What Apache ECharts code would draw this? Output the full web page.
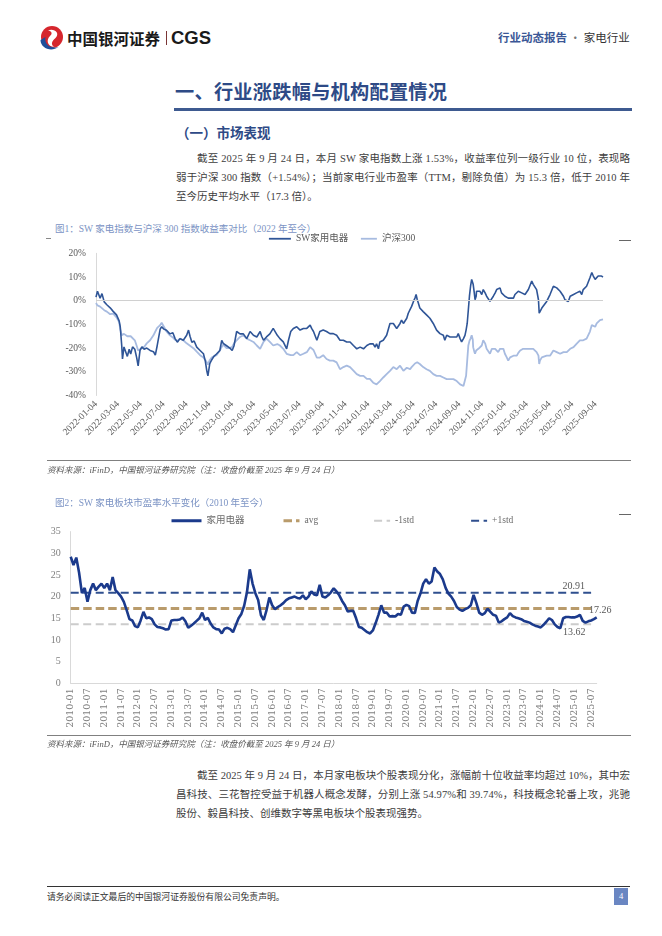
<!DOCTYPE html>
<html><head><meta charset="utf-8">
<script src="https://cdn.jsdelivr.net/npm/echarts@6/dist/echarts.min.js"></script>
<style>
body{margin:0;width:662px;height:936px;position:relative;background:#fff;overflow:hidden;font-family:"Liberation Serif","Noto Sans CJK SC",serif;}
.a{position:absolute;white-space:nowrap;}
.cj{font-family:"Noto Sans CJK SC",sans-serif;}
.ln{position:absolute;white-space:nowrap;font-size:10.5px;line-height:19px;color:#3d3d3d;}
.cap{position:absolute;white-space:nowrap;font-size:9.5px;line-height:14px;color:#7b93c4;}
.src{position:absolute;white-space:nowrap;font-size:8.5px;line-height:12px;color:#595959;font-style:italic;}
.rule{position:absolute;}
</style></head><body>

<svg class="a" style="left:38px;top:25px" width="26" height="26" viewBox="0 0 26 26">
  <circle cx="14" cy="12" r="11" fill="#d6262d"/>
  <path d="M2.5 15 C 2.5 23, 13 27.5, 20.5 22 C 13 24, 6 20, 7.5 12 Z" fill="#1f4e9a"/>
  <path d="M10 5.5 C 16 3, 22.5 8, 17.5 13 C 13.5 16, 12.5 20, 16.5 22 C 9 21.5, 8 15, 12 11 C 15 8.5, 13.5 6, 10 5.5 Z" fill="#fff"/>
</svg>
<div class="a cj" style="left:67px;top:28px;font-size:15.5px;line-height:20px;font-weight:700;color:#1a1a1a">中国银河证券</div>
<div class="rule" style="left:166px;top:31px;width:1.3px;height:14px;background:#7a3535"></div>
<div class="a" style="left:171px;top:27px;font-family:'Liberation Sans',sans-serif;font-size:18.5px;line-height:22px;font-weight:700;color:#1a1a1a">CGS</div>
<div class="a cj" style="left:498px;top:30px;font-size:11.5px;line-height:15px;color:#333"><span style="color:#3b5796;font-weight:700">行业动态报告</span><span style="color:#777"> · </span>家电行业</div>

<div class="a cj" id="title" data-w="272" style="left:175px;top:80px;font-size:19.2px;line-height:22px;font-weight:700;color:#2e4a86">一、行业涨跌幅与机构配置情况</div>
<div class="rule" style="left:174px;top:108.3px;width:458px;height:2.3px;background:#3e5a90"></div>
<div class="a cj" style="left:176px;top:124px;font-size:13.5px;line-height:17px;font-weight:700;color:#2e4a86">（一）市场表现</div>

<div class="ln jl" data-w="433" style="left:197px;top:149px">截至 2025 年 9 月 24 日，本月 SW 家电指数上涨 1.53%，收益率位列一级行业 10 位，表现略</div>
<div class="ln jl" data-w="454" style="left:176px;top:168px">弱于沪深 300 指数（+1.54%）；当前家电行业市盈率（TTM，剔除负值）为 15.3 倍，低于 2010 年</div>
<div class="ln" style="left:176px;top:187px">至今历史平均水平（17.3 倍）。</div>

<div class="cap" style="left:55px;top:222px">图1：SW 家电指数与沪深 300 指数收益率对比（2022 年至今）</div>
<div class="rule" style="left:46px;top:238px;width:5px;height:1px;background:#888"></div>
<div class="rule" style="left:619px;top:240px;width:12px;height:1px;background:#666"></div>

<div id="c1" style="position:absolute;left:0;top:225px;width:662px;height:240px"></div>

<div class="rule" style="left:47px;top:460px;width:584px;height:1.3px;background:#808080"></div>
<div class="src" style="left:47px;top:463.5px">资料来源：iFinD，中国银河证券研究院（注：收盘价截至 2025 年 9 月 24 日）</div>

<div class="cap" style="left:55px;top:496px">图2：SW 家电板块市盈率水平变化（2010 年至今）</div>
<div class="rule" style="left:619px;top:513.5px;width:12px;height:1px;background:#666"></div>

<div id="c2" style="position:absolute;left:0;top:510px;width:662px;height:232px"></div>

<div class="rule" style="left:47px;top:735px;width:584px;height:1.3px;background:#808080"></div>
<div class="src" style="left:47px;top:737.5px">资料来源：iFinD，中国银河证券研究院（注：收盘价截至 2025 年 9 月 24 日）</div>

<div class="ln jl" data-w="433" style="left:197px;top:765.5px">截至 2025 年 9 月 24 日，本月家电板块个股表现分化，涨幅前十位收益率均超过 10%，其中宏</div>
<div class="ln jl" data-w="454" style="left:176px;top:784.5px">昌科技、三花智控受益于机器人概念发酵，分别上涨 54.97%和 39.74%，科技概念轮番上攻，兆驰</div>
<div class="ln" style="left:176px;top:803.5px">股份、毅昌科技、创维数字等黑电板块个股表现强势。</div>

<div class="rule" style="left:47px;top:886px;width:583px;height:1px;background:#333"></div>
<div class="a" style="left:47px;top:890.5px;font-size:8.8px;line-height:12px;color:#333">请务必阅读正文最后的中国银河证券股份有限公司免责声明。</div>
<div class="a" style="left:614px;top:888px;width:14px;height:17px;background:#6a86c2;color:#fff;font-size:8.5px;line-height:17px;text-align:center">4</div>

<script>
// ---------- Chart 1 data: cumulative return since 2022-01-04 (%) ----------
const dates1 = ['2022-01-04','2022-01-08','2022-01-15','2022-01-20','2022-01-26','2022-02-02','2022-02-11','2022-02-19','2022-02-28','2022-03-07',
'2022-03-10','2022-03-14','2022-03-16','2022-03-20','2022-03-25','2022-03-29','2022-04-03','2022-04-07','2022-04-12','2022-04-18',
'2022-04-23','2022-04-27','2022-05-02','2022-05-07','2022-05-13','2022-05-20','2022-05-29','2022-06-07','2022-06-12','2022-06-17',
'2022-06-25','2022-06-29','2022-07-05','2022-07-12','2022-07-21','2022-07-29','2022-08-04','2022-08-10','2022-08-17','2022-08-26',
'2022-09-04','2022-09-09','2022-09-13','2022-09-18','2022-09-24','2022-10-01','2022-10-10','2022-10-19','2022-10-24','2022-10-28',
'2022-10-31','2022-11-05','2022-11-10','2022-11-16','2022-11-23','2022-12-02','2022-12-07','2022-12-11','2022-12-20','2022-12-29',
'2023-01-04','2023-01-09','2023-01-16','2023-01-25','2023-02-03','2023-02-12','2023-02-21','2023-03-02','2023-03-11','2023-03-20',
'2023-03-24','2023-03-29','2023-04-06','2023-04-15','2023-04-24','2023-04-29','2023-05-05','2023-05-12','2023-05-21','2023-05-30',
'2023-06-04','2023-06-10','2023-06-17','2023-06-26','2023-07-05','2023-07-14','2023-07-23','2023-08-01','2023-08-05','2023-08-10',
'2023-08-19','2023-08-27','2023-09-05','2023-09-14','2023-09-23','2023-10-02','2023-10-11','2023-10-20','2023-10-29','2023-11-07',
'2023-11-16','2023-11-25','2023-12-04','2023-12-13','2023-12-22','2023-12-31','2024-01-08','2024-01-17','2024-01-22','2024-01-26',
'2024-01-31','2024-02-04','2024-02-13','2024-02-22','2024-03-02','2024-03-07','2024-03-11','2024-03-20','2024-03-24','2024-03-29',
'2024-04-02','2024-04-07','2024-04-11','2024-04-16','2024-04-20','2024-04-25','2024-04-29','2024-05-04','2024-05-08','2024-05-11',
'2024-05-14','2024-05-17','2024-05-21','2024-05-30','2024-06-08','2024-06-17','2024-06-26','2024-07-05','2024-07-14','2024-07-23',
'2024-07-27','2024-08-01','2024-08-05','2024-08-10','2024-08-14','2024-08-19','2024-08-23','2024-08-28','2024-09-01','2024-09-06',
'2024-09-10','2024-09-15','2024-09-19','2024-09-22','2024-09-25','2024-09-28','2024-10-01','2024-10-04','2024-10-07','2024-10-10',
'2024-10-11','2024-10-14','2024-10-16','2024-10-19','2024-10-20','2024-10-25','2024-10-29','2024-11-03','2024-11-07','2024-11-12',
'2024-11-16','2024-11-21','2024-11-25','2024-11-30','2024-12-04','2024-12-09','2024-12-13','2024-12-17','2024-12-22','2024-12-26',
'2024-12-31','2025-01-04','2025-01-09','2025-01-13','2025-01-18','2025-01-27','2025-01-31','2025-02-05','2025-02-09','2025-02-14',
'2025-02-18','2025-02-22','2025-02-27','2025-03-03','2025-03-08','2025-03-12','2025-03-17','2025-03-21','2025-03-26','2025-03-30',
'2025-04-04','2025-04-06','2025-04-08','2025-04-13','2025-04-17','2025-04-26','2025-05-05','2025-05-14','2025-05-18','2025-05-23',
'2025-06-01','2025-06-10','2025-06-14','2025-06-19','2025-06-23','2025-06-28','2025-07-07','2025-07-15','2025-07-24','2025-07-29',
'2025-08-02','2025-08-11','2025-08-20','2025-08-25','2025-08-29','2025-09-03','2025-09-07','2025-09-11','2025-09-16','2025-09-20',
'2025-09-24'];
const swReturn = [1.5,4.0,1.0,3.0,-0.5,-1.7,-3.0,-4.5,-6.0,-8.5,
-11.0,-19.0,-24.6,-19.5,-20.0,-23.5,-20.5,-22.5,-19.5,-20.5,
-24.0,-27.5,-21.0,-19.5,-20.5,-20.0,-21.0,-21.5,-23.0,-19.0,
-12.0,-11.0,-12.0,-12.5,-14.0,-13.5,-16.0,-17.5,-16.0,-16.7,
-14.6,-12.4,-15.0,-17.5,-17.0,-19.6,-21.0,-22.4,-25.5,-29.6,
-31.7,-26.5,-25.0,-23.5,-22.5,-21.0,-16.7,-18.0,-19.0,-20.0,
-21.0,-19.0,-13.0,-14.0,-14.0,-16.0,-13.0,-14.6,-15.3,-13.0,
-15.0,-16.7,-15.3,-14.0,-11.7,-12.4,-14.6,-16.0,-17.4,-20.3,
-16.7,-13.0,-11.7,-11.0,-12.4,-11.7,-11.7,-10.3,-11.7,-13.0,
-16.7,-13.0,-12.4,-13.0,-13.9,-13.9,-14.6,-16.7,-16.7,-17.4,
-17.4,-18.9,-20.3,-19.6,-20.3,-18.9,-18.2,-18.2,-19.6,-18.2,
-20.3,-17.4,-16.7,-14.6,-9.6,-8.9,-9.6,-11.7,-12.4,-9.6,
-8.2,-9.6,-8.9,-7.4,-5.3,-4.6,-2.4,-0.3,1.1,2.6,
0.5,-1.0,-3.1,-4.6,-6.0,-7.4,-9.6,-12.4,-13.9,-14.6,
-16.7,-14.6,-13.9,-15.3,-14.6,-15.3,-16.0,-15.3,-13.9,-16.0,
-17.4,-16.0,-14.6,-12.4,-9.6,-3.9,1.9,6.1,9.0,9.7,
6.9,3.3,0.4,1.9,4.0,3.3,4.0,2.6,4.7,3.3,
1.9,1.1,-0.3,0.4,1.9,3.3,4.7,4.0,5.4,3.3,
4.0,1.9,2.6,1.1,1.9,1.1,2.6,3.3,4.0,4.7,
3.3,4.0,2.6,3.3,4.7,4.0,8.3,6.9,6.9,4.7,
0.4,-5.3,-6.0,-3.1,-2.4,-0.3,2.6,6.1,6.9,5.4,
4.0,1.9,0.4,-0.3,-0.3,1.9,2.6,3.3,4.0,2.6,
4.7,6.1,9.7,11.9,10.4,9.0,9.7,10.4,11.1,10.4,
10.0];
const hs300Return = [-1.0,-2.0,-2.5,-3.0,-4.0,-4.6,-5.7,-5.5,-7.0,-9.0,
-12.0,-14.6,-14.0,-14.0,-14.5,-15.0,-14.5,-15.0,-15.5,-16.7,
-19.0,-21.0,-20.5,-20.0,-19.5,-18.0,-16.7,-14.6,-13.0,-11.5,
-10.3,-9.3,-11.0,-13.0,-14.6,-15.5,-16.5,-17.0,-16.0,-16.7,
-18.0,-18.5,-19.0,-19.5,-20.3,-21.5,-23.0,-24.0,-25.0,-26.0,
-27.0,-25.0,-24.0,-23.5,-23.0,-21.0,-19.5,-18.5,-20.0,-20.0,
-19.5,-18.0,-16.7,-15.3,-14.6,-16.0,-16.7,-17.4,-18.9,-20.3,
-19.0,-17.4,-16.0,-17.4,-18.9,-18.5,-18.3,-18.9,-20.3,-22.4,
-23.0,-23.0,-23.0,-21.7,-23.0,-22.4,-21.7,-19.6,-19.0,-20.8,
-24.0,-24.0,-23.0,-24.6,-25.3,-25.3,-26.0,-28.9,-28.0,-27.4,
-28.0,-29.5,-31.0,-31.7,-31.7,-33.0,-33.0,-34.6,-34.6,-35.3,
-36.0,-33.9,-32.4,-31.0,-29.6,-29.0,-28.0,-28.9,-28.5,-27.4,
-28.0,-29.6,-28.9,-28.3,-28.5,-28.9,-28.0,-27.4,-26.5,-26.0,
-26.0,-26.5,-26.7,-28.0,-28.9,-29.6,-31.0,-31.7,-31.7,-32.4,
-32.8,-33.1,-33.1,-33.1,-33.5,-33.1,-33.5,-33.9,-34.6,-35.3,
-36.0,-36.0,-35.3,-31.7,-25.3,-18.9,-17.0,-16.0,-14.6,-16.5,
-19.6,-21.5,-22.4,-21.0,-21.0,-20.3,-21.0,-18.9,-16.7,-18.0,
-20.3,-21.0,-22.4,-20.3,-19.6,-20.3,-21.0,-21.7,-20.3,-19.6,
-20.3,-22.4,-23.9,-25.3,-23.9,-23.2,-23.0,-23.2,-22.0,-21.0,
-20.5,-20.3,-20.5,-20.3,-19.6,-20.3,-20.3,-20.3,-20.3,-21.7,
-23.2,-26.7,-25.3,-23.9,-23.9,-23.2,-23.2,-21.0,-21.0,-21.7,
-22.4,-21.7,-21.7,-21.7,-21.0,-20.3,-19.6,-18.2,-16.7,-17.4,
-16.7,-16.0,-13.0,-10.3,-9.6,-11.0,-9.6,-8.9,-8.2,-8.9,
-7.9];
const xTicks1 = ['2022-01-04','2022-03-04','2022-05-04','2022-07-04','2022-09-04','2022-11-04',
'2023-01-04','2023-03-04','2023-05-04','2023-07-04','2023-09-04','2023-11-04',
'2024-01-04','2024-03-04','2024-05-04','2024-07-04','2024-09-04','2024-11-04',
'2025-01-04','2025-03-04','2025-05-04','2025-07-04','2025-09-04'];

// ---------- Chart 2 data: monthly PE (TTM) ----------
const months2 = [
'2010-01','2010-02','2010-03','2010-04','2010-05','2010-06','2010-07','2010-08','2010-09','2010-10','2010-11','2010-12',
'2011-01','2011-02','2011-03','2011-04','2011-05','2011-06','2011-07','2011-08','2011-09','2011-10','2011-11','2011-12',
'2012-01','2012-02','2012-03','2012-04','2012-05','2012-06','2012-07','2012-08','2012-09','2012-10','2012-11','2012-12',
'2013-01','2013-02','2013-03','2013-04','2013-05','2013-06','2013-07','2013-08','2013-09','2013-10','2013-11','2013-12',
'2014-01','2014-02','2014-03','2014-04','2014-05','2014-06','2014-07','2014-08','2014-09','2014-10','2014-11','2014-12',
'2015-01','2015-02','2015-03','2015-04','2015-05','2015-06','2015-07','2015-08','2015-09','2015-10','2015-11','2015-12',
'2016-01','2016-02','2016-03','2016-04','2016-05','2016-06','2016-07','2016-08','2016-09','2016-10','2016-11','2016-12',
'2017-01','2017-02','2017-03','2017-04','2017-05','2017-06','2017-07','2017-08','2017-09','2017-10','2017-11','2017-12',
'2018-01','2018-02','2018-03','2018-04','2018-05','2018-06','2018-07','2018-08','2018-09','2018-10','2018-11','2018-12',
'2019-01','2019-02','2019-03','2019-04','2019-05','2019-06','2019-07','2019-08','2019-09','2019-10','2019-11','2019-12',
'2020-01','2020-02','2020-03','2020-04','2020-05','2020-06','2020-07','2020-08','2020-09','2020-10','2020-11','2020-12',
'2021-01','2021-02','2021-03','2021-04','2021-05','2021-06','2021-07','2021-08','2021-09','2021-10','2021-11','2021-12',
'2022-01','2022-02','2022-03','2022-04','2022-05','2022-06','2022-07','2022-08','2022-09','2022-10','2022-11','2022-12',
'2023-01','2023-02','2023-03','2023-04','2023-05','2023-06','2023-07','2023-08','2023-09','2023-10','2023-11','2023-12',
'2024-01','2024-02','2024-03','2024-04','2024-05','2024-06','2024-07','2024-08','2024-09','2024-10','2024-11','2024-12',
'2025-01','2025-02','2025-03','2025-04','2025-05','2025-06','2025-07','2025-08','2025-09'];
const peValues = [
29.2,27.3,29.0,25.5,20.8,22.0,18.8,21.5,23.0,21.5,22.3,23.0,
22.0,23.0,21.5,24.5,21.5,20.8,20.0,18.8,16.9,14.8,14.5,13.2,
12.9,14.5,16.5,15.0,15.2,14.8,13.6,13.0,12.9,12.7,12.4,12.5,
14.5,14.6,14.6,14.7,15.2,14.3,12.8,13.3,13.8,14.4,15.0,16.3,
14.6,15.1,13.8,12.9,12.5,12.4,11.5,12.6,12.8,12.5,11.8,13.4,
15.0,16.0,17.9,21.0,26.3,23.0,20.8,19.2,15.7,14.6,16.9,19.8,
18.0,17.1,17.6,18.0,18.5,19.2,19.6,19.8,20.0,19.7,19.6,20.3,
19.4,20.0,21.2,20.5,20.3,22.7,20.0,19.8,20.3,21.0,21.9,21.2,
20.3,19.0,18.0,16.6,16.7,16.7,15.0,13.0,12.8,12.3,11.8,11.5,
12.2,13.9,15.8,18.0,16.3,16.3,15.4,15.5,15.4,16.0,15.8,17.7,
18.1,17.8,16.3,16.2,19.0,20.7,23.0,24.0,23.0,23.5,26.7,25.8,
25.2,24.0,22.0,20.7,20.0,19.0,17.6,17.0,16.7,17.1,17.4,18.0,
20.4,18.5,16.3,15.8,16.2,17.2,16.5,15.8,15.6,14.0,14.3,14.8,
15.2,16.2,15.5,15.2,15.0,14.8,14.4,14.2,14.0,13.6,13.3,13.1,
12.9,13.5,14.2,15.0,14.6,13.6,13.0,12.7,15.0,15.3,15.3,15.2,
15.2,15.4,15.8,14.4,14.0,14.3,14.5,14.8,15.2];
const peAvg = 17.26;
const pePlusStd = 20.91;
const peMinusStd = 13.62;
const refLineEnd = '2025-07';

// ---------- helpers ----------
const SERIF = '"Liberation Serif","Noto Sans CJK SC"';
function ts(s){const p=s.split('-').map(Number);return new Date(p[0],p[1]-1,p[2]).getTime();}
function pad(n){return n<10?'0'+n:''+n;}
function fmt(v){const d=new Date(v);return d.getFullYear()+'-'+pad(d.getMonth()+1)+'-'+pad(d.getDate());}
const noSym = {opacity:0};

// ---------- Chart 1 ----------
try {
const c1 = echarts.init(document.getElementById('c1'), null, {renderer:'canvas'});
c1.setOption({
  animation:false,
  textStyle:{fontFamily:SERIF},
  legend:[
    {data:['SW家用电器'],left:268,top:9,padding:0,itemWidth:22,itemHeight:10,itemStyle:noSym,
     lineStyle:{width:1.8},textStyle:{fontSize:9.5,color:'#595959',fontFamily:SERIF}},
    {data:['沪深300'],left:360,top:9,padding:0,itemWidth:16,itemHeight:10,itemStyle:noSym,
     lineStyle:{width:1.8},textStyle:{fontSize:9.5,color:'#595959',fontFamily:SERIF}}
  ],
  grid:{left:96,top:28.3,width:507,height:142.2},
  xAxis:{type:'value',min:ts(dates1[0]),max:ts(dates1[dates1.length-1]),
    axisLine:{show:false},axisTick:{show:false},splitLine:{show:false},
    axisLabel:{customValues:xTicks1.map(ts),formatter:fmt,rotate:45,fontSize:9.5,color:'#595959',margin:7,fontFamily:SERIF}},
  yAxis:{type:'value',min:-40,max:20,interval:10,
    axisLine:{show:true,lineStyle:{color:'#d9d9d9',width:1}},axisTick:{show:false},splitLine:{show:false},
    axisLabel:{formatter:'{value}%',fontSize:9.5,color:'#595959',margin:10,fontFamily:SERIF}},
  series:[
    {name:'zero',type:'line',data:[[ts(dates1[0]),0]],symbol:'none',z:1,silent:true,lineStyle:{width:0},
     markLine:{silent:true,symbol:'none',label:{show:false},lineStyle:{color:'#d0d0d0',width:1,type:'solid'},data:[{yAxis:0}]}},
    {name:'SW家用电器',type:'line',symbol:'none',z:3,
     data:dates1.map((d,i)=>[ts(d),swReturn[i]]),
     lineStyle:{width:1.6,color:'#2f5597'},itemStyle:{color:'#2f5597'}},
    {name:'沪深300',type:'line',symbol:'none',z:2,
     data:dates1.map((d,i)=>[ts(d),hs300Return[i]]),
     lineStyle:{width:1.8,color:'#a7bbe0'},itemStyle:{color:'#a7bbe0'}}
  ]
});
} catch(e) { console.error(e); }

// ---------- Chart 2 ----------
try {
const endIdx = months2.indexOf(refLineEnd);
function levelData(level){ return months2.slice(0, endIdx+1).map(()=>level); }
function endLbl(level, off){
  return {show:true,formatter:level.toFixed(2),fontSize:10,color:'#595959',fontFamily:SERIF,distance:0,offset:off};
}
const c2 = echarts.init(document.getElementById('c2'), null, {renderer:'canvas'});
const legTxt = {fontSize:9.5,color:'#6b6b6b',fontFamily:SERIF};
c2.setOption({
  animation:false,
  textStyle:{fontFamily:SERIF},
  legend:[
    {data:['家用电器'],left:170,top:6,padding:0,itemWidth:30,itemHeight:10,itemStyle:noSym,lineStyle:{width:3},textStyle:legTxt},
    {data:['avg'],left:282,top:6,padding:0,itemWidth:16,itemHeight:10,itemStyle:noSym,lineStyle:{width:3},textStyle:legTxt},
    {data:['-1std'],left:373,top:6,padding:0,itemWidth:16,itemHeight:10,itemStyle:noSym,lineStyle:{width:2.2},textStyle:legTxt},
    {data:['+1std'],left:470,top:6,padding:0,itemWidth:16,itemHeight:10,itemStyle:noSym,lineStyle:{width:2.2},textStyle:legTxt}
  ],
  grid:{left:70.7,top:21.6,width:526,height:151.7},
  xAxis:{type:'category',data:months2,boundaryGap:false,
    axisLine:{show:true,lineStyle:{color:'#d9d9d9',width:1}},axisTick:{show:false},splitLine:{show:false},
    axisLabel:{interval:5,rotate:90,fontSize:9.5,color:'#808080',margin:5,fontFamily:'"DejaVu Serif"'}},
  yAxis:{type:'value',min:0,max:35,interval:5,
    axisLine:{show:true,lineStyle:{color:'#d9d9d9',width:1}},axisTick:{show:false},splitLine:{show:false},
    axisLabel:{fontSize:10,color:'#808080',margin:10,fontFamily:SERIF}},
  series:[
    {name:'-1std',type:'line',symbol:'none',z:2,data:levelData(peMinusStd),endLabel:endLbl(peMinusStd,[-28,8.5]),
     lineStyle:{width:2,color:'#cccccc',type:[8,4.5]},itemStyle:{color:'#cccccc'}},
    {name:'avg',type:'line',symbol:'none',z:2,data:levelData(peAvg),endLabel:endLbl(peAvg,[-2,1.5]),
     lineStyle:{width:3,color:'#b99b6b',type:[8.5,4]},itemStyle:{color:'#b99b6b'}},
    {name:'+1std',type:'line',symbol:'none',z:2,data:levelData(pePlusStd),endLabel:endLbl(pePlusStd,[-28.5,-6]),
     lineStyle:{width:2,color:'#2f4f8e',type:[8,4.5]},itemStyle:{color:'#2f4f8e'}},
    {name:'家用电器',type:'line',symbol:'none',z:4,data:peValues,
     lineStyle:{width:2.6,color:'#1b3a8c'},itemStyle:{color:'#1b3a8c'}}
  ]
});
} catch(e) { console.error(e); }

// ---------- text line justification ----------
function justify(){
  document.querySelectorAll('[data-w]').forEach(el=>{
    el.style.letterSpacing='0px';
    const w = el.getBoundingClientRect().width;
    const n = Array.from(el.textContent).length;
    const ls = (parseFloat(el.dataset.w) - w)/(n-1);
    el.style.letterSpacing = ls.toFixed(3)+'px';
  });
}
justify();
if(document.fonts&&document.fonts.ready){document.fonts.ready.then(justify);}
</script>
</body></html>
